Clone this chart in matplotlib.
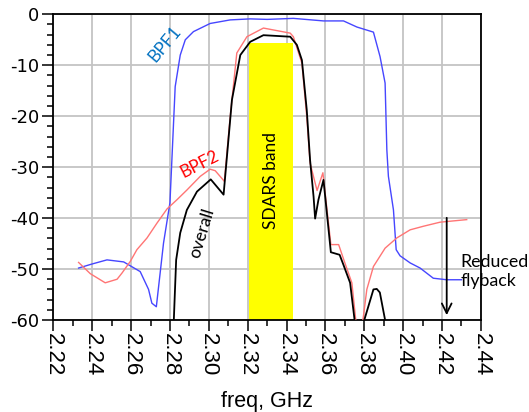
import numpy as np
import matplotlib
matplotlib.use("Agg")
import matplotlib.pyplot as plt
from matplotlib.ticker import MultipleLocator

plt.rcParams['axes.unicode_minus'] = False

# BPF1 response (freq GHz, dB)
bpf1_freq = [2.233, 2.240, 2.2476, 2.2562, 2.2647, 2.269, 2.2707, 2.273, 2.2767, 2.2800,
             2.2827, 2.2853, 2.2879, 2.2921, 2.3007, 2.311, 2.3213, 2.330, 2.3435, 2.359,
             2.3693, 2.3762, 2.3847, 2.3881, 2.3907, 2.3916, 2.3924, 2.395, 2.3964, 2.3984,
             2.4036, 2.4087, 2.4155, 2.4224, 2.430]
bpf1_db = [-49.8, -49.0, -48.2, -48.6, -50.5, -54.0, -56.7, -57.4, -44.9, -37.0,
           -14.2, -8.0, -5.0, -3.4, -1.8, -1.1, -0.9, -1.0, -0.8, -1.3,
           -1.3, -2.5, -3.5, -8.3, -13.5, -26.6, -31.8, -38.4, -46.2, -47.4,
           -48.8, -49.8, -51.8, -52.1, -52.1]

# BPF2 response
bpf2_freq = [2.233, 2.239, 2.2467, 2.2528, 2.2553, 2.2596, 2.263, 2.2682, 2.2733, 2.2785,
             2.2836, 2.2887, 2.2956, 2.3007, 2.3033, 2.3067, 2.308, 2.311, 2.3144, 2.3196,
             2.3281, 2.3419, 2.3435, 2.3479, 2.3504, 2.3521, 2.3557, 2.3587, 2.3628, 2.3668,
             2.370, 2.3736, 2.3756, 2.3775, 2.3793, 2.3813, 2.3847, 2.3907, 2.3967, 2.4036,
             2.4104, 2.419, 2.4327]
bpf2_db = [-48.7, -50.9, -52.7, -52.0, -50.8, -48.5, -46.2, -43.9, -41.0, -38.2,
           -36.4, -34.5, -31.8, -30.4, -30.7, -32.2, -32.8, -20.1, -7.6, -4.4,
           -2.7, -3.7, -4.4, -9.6, -20.1, -29.2, -34.6, -31.1, -45.2, -45.2,
           -48.8, -52.7, -60.0, -66.0, -60.0, -54.0, -49.5, -45.9, -43.9, -42.3,
           -41.6, -40.8, -40.3]

# overall (cascade) response
overall_freq = [2.2812, 2.2824, 2.2832, 2.2853, 2.2887, 2.2939, 2.301, 2.3076, 2.3119, 2.3162,
                2.3213, 2.3281, 2.3419, 2.3453, 2.3479, 2.3504, 2.3521, 2.3539, 2.3547, 2.3564,
                2.359, 2.3628, 2.3673, 2.3693, 2.3727, 2.375, 2.3775, 2.380, 2.3847, 2.3864,
                2.388, 2.3907, 2.392]
overall_db = [-68.0, -56.0, -48.2, -42.9, -38.4, -34.8, -32.4, -35.4, -16.8, -8.0,
              -5.4, -4.1, -4.4, -6.0, -9.0, -18.8, -28.6, -35.8, -40.1, -36.4,
              -32.5, -46.7, -47.2, -49.2, -52.7, -60.0, -70.0, -60.0, -54.0, -53.9,
              -54.6, -60.0, -66.0]

# SDARS band marker
band_start = 2.3205
band_stop = 2.3432
band_top = -5.6

x_ticks = [2.22, 2.24, 2.26, 2.28, 2.30, 2.32, 2.34, 2.36, 2.38, 2.40, 2.42, 2.44]
y_ticks = [0, -10, -20, -30, -40, -50, -60]

ann_font = ['Lato', 'DejaVu Sans']

fig = plt.figure(figsize=(5.29, 4.12), dpi=100)
ax = fig.add_axes([0.1008, 0.2233, 0.8083, 0.742])

ax.fill_between([band_start, band_stop], -60, band_top, color='#ffff00', zorder=2, linewidth=0)

ax.plot(bpf1_freq, bpf1_db, color='#4646ff', lw=1.0, zorder=3)
ax.plot(bpf2_freq, bpf2_db, color='#ff7575', lw=1.0, zorder=3)
ax.plot(overall_freq, overall_db, color='black', lw=1.3, zorder=4)

ax.set_xlim(2.22, 2.44)
ax.set_ylim(-60, 0)
ax.set_xticks(x_ticks)
ax.set_xticklabels([f"{v:.2f}" for v in x_ticks], rotation=270,
                   family='Liberation Sans', fontsize=16)
ax.set_yticks(y_ticks)
ax.set_yticklabels([str(v) for v in y_ticks], family='DejaVu Sans', fontsize=13)
ax.xaxis.set_minor_locator(MultipleLocator(0.01))
ax.yaxis.set_minor_locator(MultipleLocator(2))
ax.tick_params(which='major', direction='out', length=8, width=1.1, color='black')
ax.tick_params(axis='x', which='major', pad=1)
ax.tick_params(axis='y', which='major', pad=2)
ax.tick_params(which='minor', direction='out', length=4, width=1.1, color='black')
ax.grid(True, which='major', color='#c4c4c4', lw=1.3, zorder=1)
ax.set_axisbelow(True)
for s in ax.spines.values():
    s.set_linewidth(1.3)

ax.set_xlabel("freq, GHz", family='Liberation Sans', fontsize=15.5, labelpad=11)

# annotations
ax.text(2.2774, -5.8, "BPF1", color='#0070c0', rotation=50, fontsize=12.5,
        family=ann_font, ha='center', va='center')
ax.text(2.2954, -29.35, "BPF2", color='red', rotation=27, fontsize=12.5,
        family=ann_font, ha='center', va='center')
ax.text(2.2963, -42.9, "overall", color='black', rotation=73, fontsize=12.5,
        family=ann_font, ha='center', va='center')
ax.text(2.3318, -32.7, "SDARS band", color='black', rotation=90, fontsize=12.5,
        family=ann_font, ha='center', va='center', zorder=5)
ax.text(2.4295, -50.5, "Reduced\nflyback", color='black', fontsize=12.8,
        family=ann_font, ha='left', va='center', linespacing=1.2)
ax.annotate("", xy=(2.4224, -59.6), xytext=(2.4224, -39.4),
            arrowprops=dict(arrowstyle='->,head_length=0.7,head_width=0.35',
                            color='black', lw=1.3))

fig.savefig("out.png", dpi=100)
